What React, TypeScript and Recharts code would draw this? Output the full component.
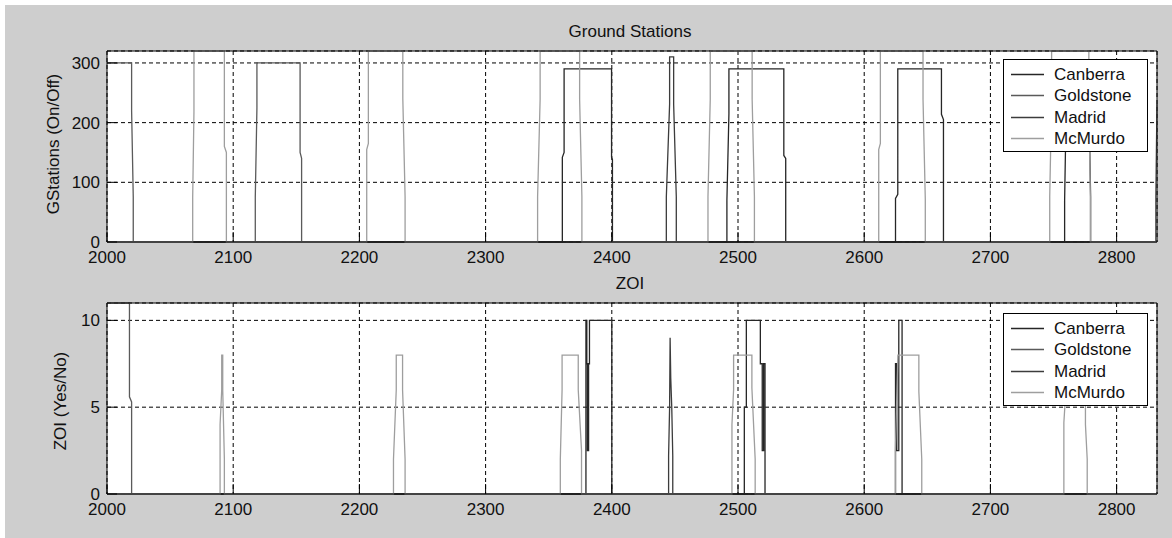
import React from 'react';
import { LineChart, Line, XAxis, YAxis, CartesianGrid } from 'recharts';

type Pair = [number, number];

const X_TICKS = [2000, 2100, 2200, 2300, 2400, 2500, 2600, 2700, 2800];
const X_DOMAIN: [number, number] = [2000, 2832];
const GS_TICKS = [0, 100, 200, 300];
const GS_DOMAIN: [number, number] = [0, 320];
const ZOI_TICKS = [0, 5, 10];
const ZOI_DOMAIN: [number, number] = [0, 11];

const STATIONS = ['Canberra', 'Goldstone', 'Madrid', 'McMurdo'];
const COLORS = ['#262626', '#5a5a5a', '#3c3c3c', '#9e9e9e'];

// Ground station on/off signals (top panel)
const gsCanberra: Pair[] = [
  [2000, 0],
  [2360.8, 0], [2360.8, 142], [2362.2, 150], [2362.2, 290],
  [2399.8, 290], [2399.8, 142], [2400.5, 138], [2400.5, 0],
  [2491.2, 0], [2491.2, 70], [2492.8, 215], [2492.8, 290],
  [2536.3, 290], [2536.3, 145], [2537.8, 140], [2537.8, 0],
  [2624.8, 0], [2624.8, 73], [2626.6, 80], [2626.6, 290],
  [2661.2, 290], [2661.2, 214], [2662.8, 205], [2662.8, 0],
  [2758.8, 0], [2758.8, 70], [2760, 220], [2760, 290],
  [2778.2, 290], [2778.2, 214], [2779.4, 76], [2779.4, 0],
  [2832, 0],
];
const gsGoldstone: Pair[] = [
  [2000, 300], [2019.5, 300], [2019.5, 220], [2020.8, 75], [2020.8, 0],
  [2117.5, 0], [2117.5, 75], [2118.8, 225], [2118.8, 300],
  [2153, 300], [2153, 150], [2154.2, 140], [2154.2, 0],
  [2831, 0], [2831, 75], [2832, 231],
];
const gsMadrid: Pair[] = [
  [2000, 0],
  [2443.2, 0], [2443.2, 76], [2445.8, 231], [2445.8, 310],
  [2449, 310], [2449, 231], [2451.1, 76], [2451.1, 0],
  [2832, 0],
];
const gsMcMurdo: Pair[] = [
  [2000, 0],
  [2067.9, 0], [2067.9, 75], [2068.9, 218], [2068.9, 320],
  [2093, 320], [2093, 160], [2094.6, 150], [2094.6, 0],
  [2205.8, 0], [2205.8, 155], [2207.1, 165], [2207.1, 320],
  [2234.4, 320], [2234.4, 240], [2236.2, 76], [2236.2, 0],
  [2341.2, 0], [2341.2, 76], [2343.2, 239], [2343.2, 320],
  [2374.5, 320], [2374.5, 239], [2376.3, 76], [2376.3, 0],
  [2476.2, 0], [2476.2, 76], [2478, 239], [2478, 320],
  [2511.2, 320], [2511.2, 239], [2513, 76], [2513, 0],
  [2611.5, 0], [2611.5, 155], [2612.8, 165], [2612.8, 320],
  [2646.6, 320], [2646.6, 239], [2648.4, 72], [2648.4, 0],
  [2747, 0], [2747, 76], [2748.5, 239], [2748.5, 320],
  [2778, 320], [2778, 239], [2779.2, 76], [2779.2, 0],
  [2832, 0],
];

// Zone of interest signals (bottom panel)
const zoiCanberra: Pair[] = [
  [2000, 0],
  [2379.5, 0], [2379.5, 10], [2380.2, 10], [2380.2, 7.5], [2380.7, 7.5], [2380.7, 2.5],
  [2381.6, 2.5], [2381.6, 7.5], [2382.3, 7.5], [2382.3, 10],
  [2400, 10], [2400, 0],
  [2505, 0], [2505, 5], [2506.6, 5], [2506.6, 10], [2517.7, 10], [2517.7, 7.5],
  [2519.2, 7.5], [2519.2, 2.5], [2520.3, 2.5], [2520.3, 7.5], [2521.4, 7.5], [2521.4, 0],
  [2624.8, 0], [2624.8, 7.5], [2625.8, 7.5], [2625.8, 2.5], [2627.4, 2.5], [2627.4, 10],
  [2630, 10], [2630, 0],
  [2832, 0],
];
const zoiGoldstone: Pair[] = [
  [2000, 11], [2017.8, 11], [2017.8, 5.6], [2019.5, 5.3], [2019.5, 0], [2832, 0],
];
const zoiMadrid: Pair[] = [
  [2000, 0],
  [2445, 0], [2445, 2.2], [2445.8, 5], [2446.2, 9], [2446.7, 6.7], [2447.5, 5],
  [2448.3, 2.2], [2448.3, 0],
  [2832, 0],
];
const zoiMcMurdo: Pair[] = [
  [2000, 0],
  [2089.6, 0], [2089.6, 4], [2090.9, 6], [2090.9, 8], [2091.7, 8], [2091.7, 6], [2093, 2], [2093, 0],
  [2227, 0], [2227, 2], [2229.2, 6], [2229.2, 8], [2234.2, 8], [2234.2, 6], [2236.2, 2], [2236.2, 0],
  [2359.2, 0], [2359.2, 2], [2360.6, 6], [2360.6, 8], [2373.4, 8], [2373.4, 6], [2376, 2.5], [2376, 0],
  [2495.2, 0], [2495.2, 4], [2496.5, 6], [2496.5, 8], [2511, 8], [2511, 6.1], [2513.6, 2], [2513.6, 0],
  [2624.7, 0], [2624.7, 2.5], [2626.7, 8], [2643.3, 8], [2643.3, 5.9], [2645.6, 2], [2645.6, 0],
  [2758.2, 0], [2758.2, 4.1], [2759.8, 6], [2759.8, 8], [2775.3, 8], [2775.3, 4], [2776.7, 2], [2776.7, 0],
  [2832, 0],
];

const GS_SERIES = [gsCanberra, gsGoldstone, gsMadrid, gsMcMurdo];
const ZOI_SERIES = [zoiCanberra, zoiGoldstone, zoiMadrid, zoiMcMurdo];

const FONT = '"Liberation Sans", Arial, Helvetica, sans-serif';
const toPts = (arr: Pair[]) => arr.map(([x, y]) => ({ x, y }));

type PanelProps = {
  top: number;
  height: number;
  marginTop: number;
  marginBottom: number;
  series: Pair[][];
  yDomain: [number, number];
  yTicks: number[];
};

function Panel({ top, height, marginTop, marginBottom, series, yDomain, yTicks }: PanelProps) {
  const tickStyle = { fill: '#111', fontSize: 17, fontFamily: FONT };
  return (
    <div style={{ position: 'absolute', left: 0, top, width: 1172, height }}>
      <LineChart
        width={1172}
        height={height}
        margin={{ top: marginTop, right: 14, bottom: marginBottom, left: 47 }}
      >
        <CartesianGrid
          xAxisId="b"
          yAxisId="l"
          fill="#ffffff"
          stroke="#000"
          strokeDasharray="4 3"
          strokeWidth={1}
        />
        <XAxis
          xAxisId="b"
          type="number"
          dataKey="x"
          orientation="bottom"
          domain={X_DOMAIN}
          ticks={X_TICKS}
          interval={0}
          height={30}
          tickSize={-10}
          tickMargin={19}
          axisLine={{ stroke: '#000' }}
          tickLine={{ stroke: '#000' }}
          tick={tickStyle}
        />
        <XAxis
          xAxisId="t"
          type="number"
          dataKey="x"
          orientation="top"
          domain={X_DOMAIN}
          ticks={X_TICKS}
          interval={0}
          height={1}
          tickSize={-10}
          tick={false}
          axisLine={{ stroke: '#000' }}
          tickLine={{ stroke: '#000' }}
        />
        <YAxis
          yAxisId="l"
          type="number"
          orientation="left"
          domain={yDomain}
          ticks={yTicks}
          interval={0}
          width={60}
          tickSize={-10}
          tickMargin={17}
          axisLine={{ stroke: '#000' }}
          tickLine={{ stroke: '#000' }}
          tick={tickStyle}
        />
        <YAxis
          yAxisId="r"
          type="number"
          orientation="right"
          domain={yDomain}
          ticks={yTicks}
          interval={0}
          width={1}
          tickSize={-10}
          tick={false}
          axisLine={{ stroke: '#000' }}
          tickLine={{ stroke: '#000' }}
        />
        {series.map((s, i) => (
          <Line
            key={STATIONS[i]}
            name={STATIONS[i]}
            xAxisId="b"
            yAxisId="l"
            data={toPts(s)}
            dataKey="y"
            type="linear"
            stroke={COLORS[i]}
            strokeWidth={1.3}
            dot={false}
            activeDot={false}
            isAnimationActive={false}
          />
        ))}
      </LineChart>
    </div>
  );
}

function LegendBox({ left, top }: { left: number; top: number }) {
  return (
    <div
      style={{
        position: 'absolute',
        left,
        top,
        width: 145,
        height: 93,
        boxSizing: 'border-box',
        border: '1px solid #000',
        background: '#fff',
        paddingTop: 4,
        fontFamily: FONT,
        fontSize: 17,
        color: '#111',
      }}
    >
      {STATIONS.map((name, i) => (
        <div key={name} style={{ position: 'relative', height: 21.3, lineHeight: '21.3px' }}>
          <svg width={34} height={21} style={{ position: 'absolute', left: 7, top: 0 }}>
            <line x1={0} x2={33} y1={10.5} y2={10.5} stroke={COLORS[i]} strokeWidth={1.3} />
          </svg>
          <span style={{ position: 'absolute', left: 50, top: 0, whiteSpace: 'nowrap' }}>{name}</span>
        </div>
      ))}
    </div>
  );
}

function TextAt({ x, y, text, rotate }: { x: number; y: number; text: string; rotate?: boolean }) {
  return (
    <div
      style={{
        position: 'absolute',
        left: x,
        top: y,
        transform: `translate(-50%, -50%)${rotate ? ' rotate(-90deg)' : ''}`,
        whiteSpace: 'nowrap',
        fontFamily: FONT,
        fontSize: 17,
        color: '#111',
        lineHeight: '20px',
      }}
    >
      {text}
    </div>
  );
}

export default function App() {
  return (
    <div style={{ position: 'absolute', left: 0, top: 0, width: 1172, height: 538, background: '#fff', overflow: 'hidden' }}>
      <div style={{ position: 'absolute', left: 5, top: 5, width: 1167, height: 533, background: '#cecece' }} />
      <Panel
        top={0}
        height={280}
        marginTop={50}
        marginBottom={8}
        series={GS_SERIES}
        yDomain={GS_DOMAIN}
        yTicks={GS_TICKS}
      />
      <Panel
        top={270}
        height={268}
        marginTop={32}
        marginBottom={14}
        series={ZOI_SERIES}
        yDomain={ZOI_DOMAIN}
        yTicks={ZOI_TICKS}
      />
      <TextAt x={630} y={32} text="Ground Stations" />
      <TextAt x={630} y={284} text="ZOI" />
      <TextAt x={54} y={144} text="GStations (On/Off)" rotate />
      <TextAt x={61} y={401} text="ZOI (Yes/No)" rotate />
      <LegendBox left={1003} top={59} />
      <LegendBox left={1003} top={313} />
    </div>
  );
}
